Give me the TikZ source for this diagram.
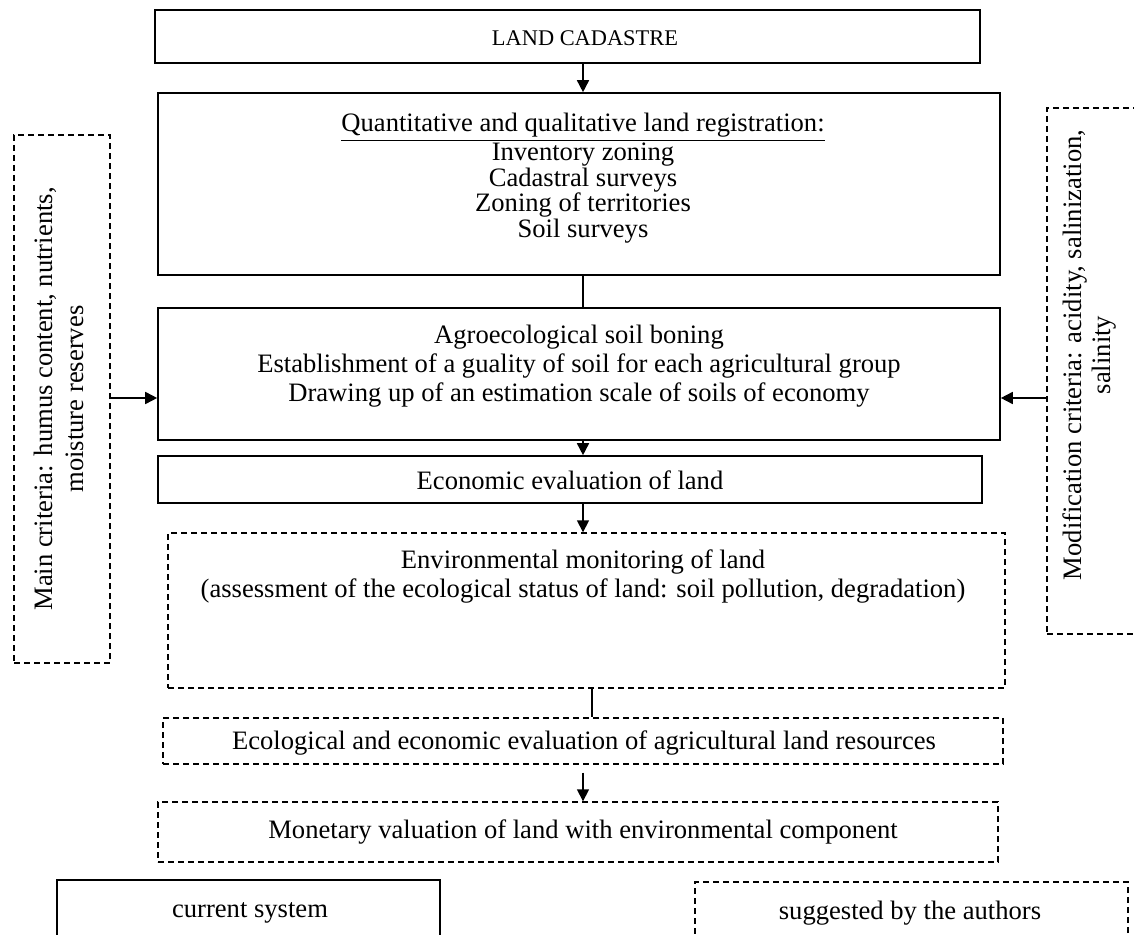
\documentclass[tikz,border=0pt]{standalone}
\usepackage{fontspec}
\setmainfont{Liberation Serif}
\usetikzlibrary{arrows.meta,fit}
\begin{document}
\begin{tikzpicture}[x=0.5pt,y=-0.5pt,
 solidbox/.style={draw,line width=0.8pt,inner sep=0pt},
 dashbox/.style={draw,line width=0.7pt,dash pattern=on 3pt off 2pt,inner sep=0pt},
 txt/.style={font=\fontsize{13.3}{14}\selectfont,align=center,inner sep=0pt},
 arr/.style={line width=0.8pt,-{Triangle[length=6pt,width=6pt]}},
 ln/.style={line width=0.6pt}]
\useasboundingbox (0,0) rectangle (1134,935);
\clip (0,0) rectangle (1134,935);
% boxes
\node[solidbox, fit={(155,10)(980,63)}] (cad) {};
\node[solidbox, fit={(158,93)(1000,275)}] (reg) {};
\node[solidbox, fit={(158,308)(1000,440)}] (agro) {};
\node[solidbox, fit={(158,456)(982,503)}] (econ) {};
\node[dashbox, fit={(168,533)(1005,688)}] (env) {};
\node[dashbox, fit={(163,718)(1003,764)}] (eco) {};
\node[dashbox, fit={(158,802)(998,862)}] (mon) {};
\node[dashbox, fit={(14,135)(110,663)}] (main) {};
\node[dashbox, fit={(1047,108)(1160,634)}] (mod) {};
\node[solidbox, fit={(57,880)(440,960)}] (cur) {};
\node[dashbox, fit={(695,882)(1128,960)}] (sug) {};
% texts
\node[txt, font=\fontsize{11.2}{13}\selectfont] (tcad) at (585,38) {LAND CADASTRE};
\node[txt, font=\fontsize{13.3}{12.75}\selectfont] (treg) at (583,178) {\underline{Quantitative and qualitative land registration:}\\Inventory zoning\\Cadastral surveys\\Zoning of territories\\Soil surveys};
\node[txt, font=\fontsize{13.3}{14.5}\selectfont] (tagro) at (579,366) {Agroecological soil boning\\Establishment of a guality of soil for each agricultural group\\Drawing up of an estimation scale of soils of economy};
\node[txt] (tecon) at (570,480) {Economic evaluation of land};
\node[txt, font=\fontsize{13.3}{14.5}\selectfont] (tenv) at (583,577) {Environmental monitoring of land\\(assessment of the ecological status of land: soil pollution, degradation)};
\node[txt] (teco) at (584,743) {Ecological and economic evaluation of agricultural land resources};
\node[txt] (tmon) at (583,832) {Monetary valuation of land with environmental component};
\node[txt, rotate=90, font=\fontsize{13.3}{15.5}\selectfont] (tmain) at (59,399) {Main criteria: humus content, nutrients,\\moisture reserves};
\node[txt, rotate=90, font=\fontsize{13.3}{14.5}\selectfont] (tmod) at (1089,355) {Modification criteria: acidity, salinization,\\salinity};
\node[txt] (tcur) at (250,913) {current system};
\node[txt] (tsug) at (910,913) {suggested by the authors};
% connectors
\coordinate (c0) at (583,0);
\draw[arr] (cad.south -| c0) -- (reg.north -| c0);
\draw[ln] (reg.south -| c0) -- (agro.north -| c0);
\draw[arr] (agro.south -| c0) -- (econ.north -| c0);
\draw[arr] (econ.south -| c0) -- (env.north -| c0);
\coordinate (c1) at (592,0);
\draw[ln] (env.south -| c1) -- (eco.north -| c1);
\draw[arr, shorten <=4pt] (eco.south -| c0) -- (mon.north -| c0);
\coordinate (c2) at (0,398);
\draw[arr] (main.east |- c2) -- (agro.west |- c2);
\draw[arr] (mod.west |- c2) -- (agro.east |- c2);
\end{tikzpicture}
\end{document}
